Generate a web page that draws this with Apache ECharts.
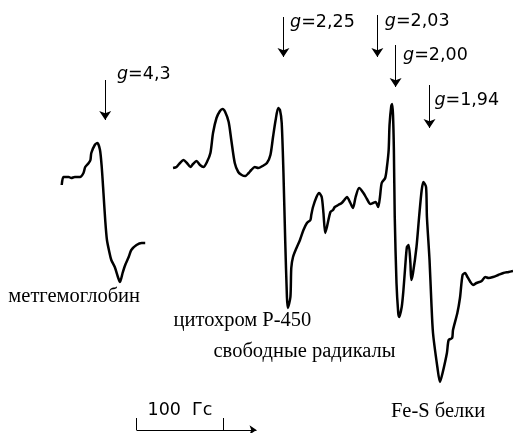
<!DOCTYPE html>
<html><head><meta charset="utf-8">
<script src="https://cdn.jsdelivr.net/npm/echarts/dist/echarts.min.js"></script>
<style>html,body{margin:0;padding:0;background:#fff}#c{width:513px;height:433px}</style>
</head><body><div id="c"></div>
<script>
// Magnetic field (G, relative) and EPR signal (a.u.)
const metField  = [71,73,79,82,86,92,96,98,102,104,105,109,112,115,117,119,121,123,126,128,132,136,138,141,144,148,151,157,163,167];
const metSignal = [75,83,83,82,83,83,87,93,97,100,107,115,117,110,93,67,40,20,7,0,-7,-18,-22,-13,-5,3,10,15,17,17];

const mainField = [199,203,207,211,215,219,222,226,230,234,238,242,245,249,253,256,259,263,266,270,
  274,278,282,286,289,293,297,302,307,311,314,317,320,322,324,326,328,330,331,334,
  335,337,341,345,349,353,357,358,360,364,367,370,372,374,376,380,383,385,389,393,
  396,399,403,406,409,413,418,422,426,429,432,435,437,439,443,445,447,448,450,451,
  452,453,454,456,458,459,462,464,466,468,470,472,473,475,479,482,485,487,490,491,
  494,496,498,503,506,509,514,516,520,521,526,529,532,535,537,541,544,548,554,558,
  562,567,573,579,585,590];
const mainSignal = [92,93,97,100,97,93,96,99,95,93,98,107,127,142,149,151,148,138,120,97,
  88,85,84,87,90,93,92,94,97,105,123,140,152,150,137,87,20,-37,-48,-37,
  -8,3,12,20,30,37,40,45,53,63,67,63,47,27,33,48,50,53,55,57,
  60,63,57,52,63,72,67,61,56,57,58,53,63,77,82,93,110,135,154,156,
  145,110,43,-23,-53,-57,-47,-30,-7,13,15,-3,-20,-13,13,43,70,78,73,43,
  0,-40,-73,-107,-122,-113,-93,-80,-78,-70,-53,-38,-15,-13,-16,-22,-25,-23,-21,-17,
  -18,-17,-15,-13,-12,-11];

// g-factor markers
const gValues      = ['4,3','2,25','2,03','2,00','1,94'];
const gArrowField  = [121,326,434,455,494];
const gArrowTop    = [180,243,245,215,175];
const gArrowBottom = [140,203,203,173,132];
const gLabelField  = [134,333,442,463,499];
const gLabelSignal = [186,238,239,205,160];

// species labels
const speciesNames  = ['метгемоглобин','цитохром Р-450','свободные радикалы','Fe-S белки'];
const speciesField  = [9,199,245,449];
const speciesSignal = [-37,-61,-92,-152];

// scale bar (100 G)
const scaleStart = 157, scaleLength = 100, scaleArrowEnd = 295, scaleLevel = -170, scaleTickTop = -158;
const scaleLabel = '100  Гс', scaleLabelSignal = -150;

const zip = (a, b) => a.map((v, i) => [v, b[i]]);

const SANS = 'DejaVu Sans, Liberation Sans, sans-serif';
const SERIF = 'Liberation Serif, Times New Roman, serif';

const arrowLines = gValues.map((g, i) => [
  {coord: [gArrowField[i], gArrowTop[i]], symbol: 'none'},
  {coord: [gArrowField[i], gArrowBottom[i]], symbol: 'arrow', symbolSize: 9}
]);
const scaleLines = [
  [{coord: [scaleStart, scaleLevel], symbol: 'none'}, {coord: [scaleArrowEnd, scaleLevel], symbol: 'arrow', symbolSize: 7}],
  [{coord: [scaleStart, scaleTickTop], symbol: 'none'}, {coord: [scaleStart, scaleLevel], symbol: 'none'}],
  [{coord: [scaleStart + scaleLength, scaleTickTop], symbol: 'none'}, {coord: [scaleStart + scaleLength, scaleLevel], symbol: 'none'}]
];

const gPoints = gValues.map((g, i) => ({
  coord: [gLabelField[i], gLabelSignal[i]],
  label: {formatter: '{i|g}{n|=' + g + '}'}
}));
const speciesPoints = speciesNames.map((n, i) => ({
  coord: [speciesField[i], speciesSignal[i]],
  label: {formatter: '{s|' + n + '}'}
}));
const scalePoint = {
  coord: [scaleStart + scaleLength / 2, scaleLabelSignal],
  label: {formatter: '{n|' + scaleLabel + '}', position: 'inside', align: 'center'}
};

const chart = echarts.init(document.getElementById('c'), null, {renderer: 'canvas'});
chart.setOption({
  animation: false,
  backgroundColor: '#fff',
  grid: {left: 0, right: 0, top: 0, bottom: 0},
  xAxis: {type: 'value', min: 0, max: 590, show: false},
  yAxis: {type: 'value', min: -173, max: 260, show: false},
  series: [
    {type: 'line', name: 'метгемоглобин', data: zip(metField, metSignal), showSymbol: false, smooth: 0.25,
     lineStyle: {color: '#000', width: 2.5}, silent: true},
    {type: 'line', name: 'спектр', data: zip(mainField, mainSignal), showSymbol: false, smooth: 0.25,
     lineStyle: {color: '#000', width: 2.5}, silent: true},
    {type: 'line', name: 'annotations', data: [], silent: true,
     markLine: {silent: true, animation: false, symbol: ['none', 'arrow'], label: {show: false},
       lineStyle: {color: '#000', width: 1, type: 'solid'},
       emphasis: {disabled: true},
       data: arrowLines.concat(scaleLines)},
     markPoint: {silent: true, animation: false, symbol: 'circle', symbolSize: 1,
       itemStyle: {color: 'rgba(0,0,0,0)'},
       label: {show: true, position: 'right', distance: 0, color: '#000',
         rich: {
           i: {fontFamily: SANS, fontSize: 17.5, fontStyle: 'italic', color: '#000'},
           n: {fontFamily: SANS, fontSize: 17.5, color: '#000'},
           s: {fontFamily: SERIF, fontSize: 20.5, color: '#000'}
         }},
       data: gPoints.concat(speciesPoints, [scalePoint])}
    }
  ]
});
</script>
</body></html>
